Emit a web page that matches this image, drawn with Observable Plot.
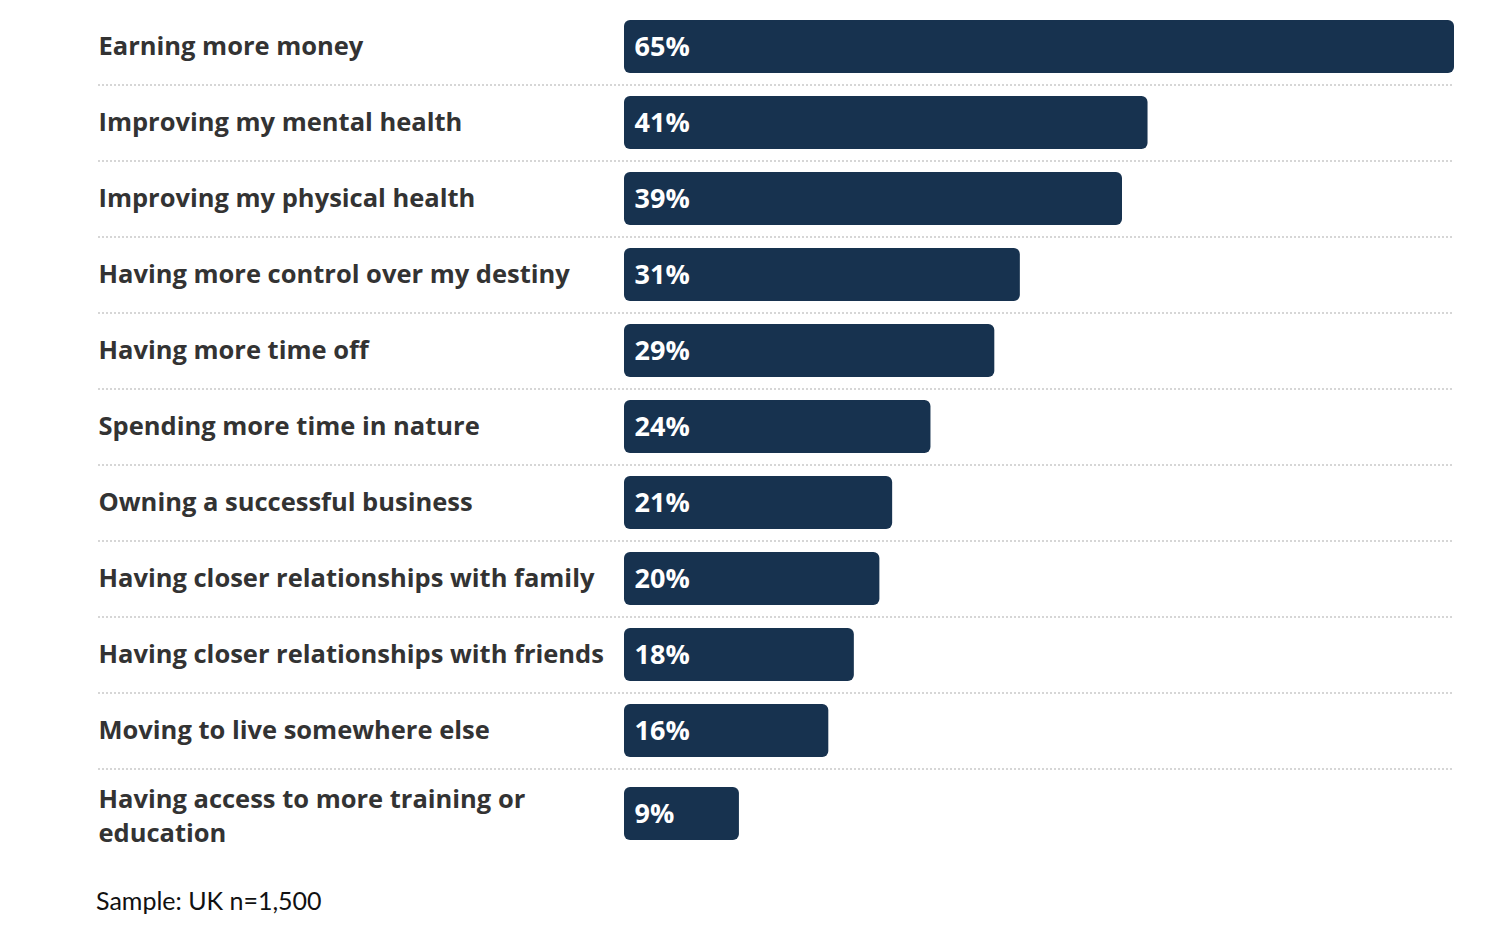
<!DOCTYPE html>
<html><head><meta charset="utf-8">
<script src="https://cdn.jsdelivr.net/npm/d3@7"></script>
<script src="https://cdn.jsdelivr.net/npm/@observablehq/plot@0.6"></script>
<style>
body{margin:0;background:#fff;font-family:Lato,sans-serif;}
#caption{position:absolute;left:96px;top:885px;font-size:25px;color:#111;font-family:Lato,sans-serif;}
</style></head><body>
<div id="chart"></div>
<div id="caption">Sample: UK n=1,500</div>
<script>
const categories = [
  "Earning more money",
  "Improving my mental health",
  "Improving my physical health",
  "Having more control over my destiny",
  "Having more time off",
  "Spending more time in nature",
  "Owning a successful business",
  "Having closer relationships with family",
  "Having closer relationships with friends",
  "Moving to live somewhere else",
  "Having access to more training or\neducation"
];
const values = [65, 41, 39, 31, 29, 24, 21, 20, 18, 16, 9];

const data = categories.map((c, i) => ({category: c, value: values[i], label: values[i] + "%"}));
const last = categories[categories.length - 1];
const main = data.filter(d => d.category !== last);
const tail = data.filter(d => d.category === last);
const seps = categories.slice(0, -1);
const barColor = "#17324f";
const textColor = "#333333";
const labelFont = "'Open Sans', sans-serif";

const chart = Plot.plot({
  width: 1504, height: 870,
  marginLeft: 98, marginRight: 50, marginTop: 9, marginBottom: 25,
  x: {domain: [0, d3.max(values)], range: [624, 1454], axis: null},
  y: {domain: categories, type: "band", paddingInner: 0.3, paddingOuter: 0.15, range: [9, 845], axis: null},
  style: {fontFamily: labelFont, background: "#fff"},
  marks: [
    Plot.ruleY(seps, {y: d => d, dy: 38, stroke: "#c9c9c9", strokeWidth: 1.3, strokeDasharray: "2,2"}),
    Plot.barX(main, {x: "value", y: "category", fill: barColor, rx: 6}),
    Plot.barX(tail, {x: "value", y: "category", fill: barColor, rx: 6, dy: 7}),
    Plot.text(main, {y: "category", text: "category", frameAnchor: "left", textAnchor: "start", fontSize: 25.5, fontWeight: 700, fill: textColor}),
    Plot.text(tail, {y: "category", text: "category", frameAnchor: "left", textAnchor: "start", fontSize: 25.5, fontWeight: 700, fill: textColor, dy: 7, lineHeight: 1.33}),
    Plot.text(main, {x: 0, y: "category", text: "label", dx: 10, textAnchor: "start", fontSize: 27, fontWeight: 700, fill: "white"}),
    Plot.text(tail, {x: 0, y: "category", text: "label", dx: 10, dy: 7, textAnchor: "start", fontSize: 27, fontWeight: 700, fill: "white"})
  ]
});
document.getElementById("chart").appendChild(chart);
</script>
</body></html>
